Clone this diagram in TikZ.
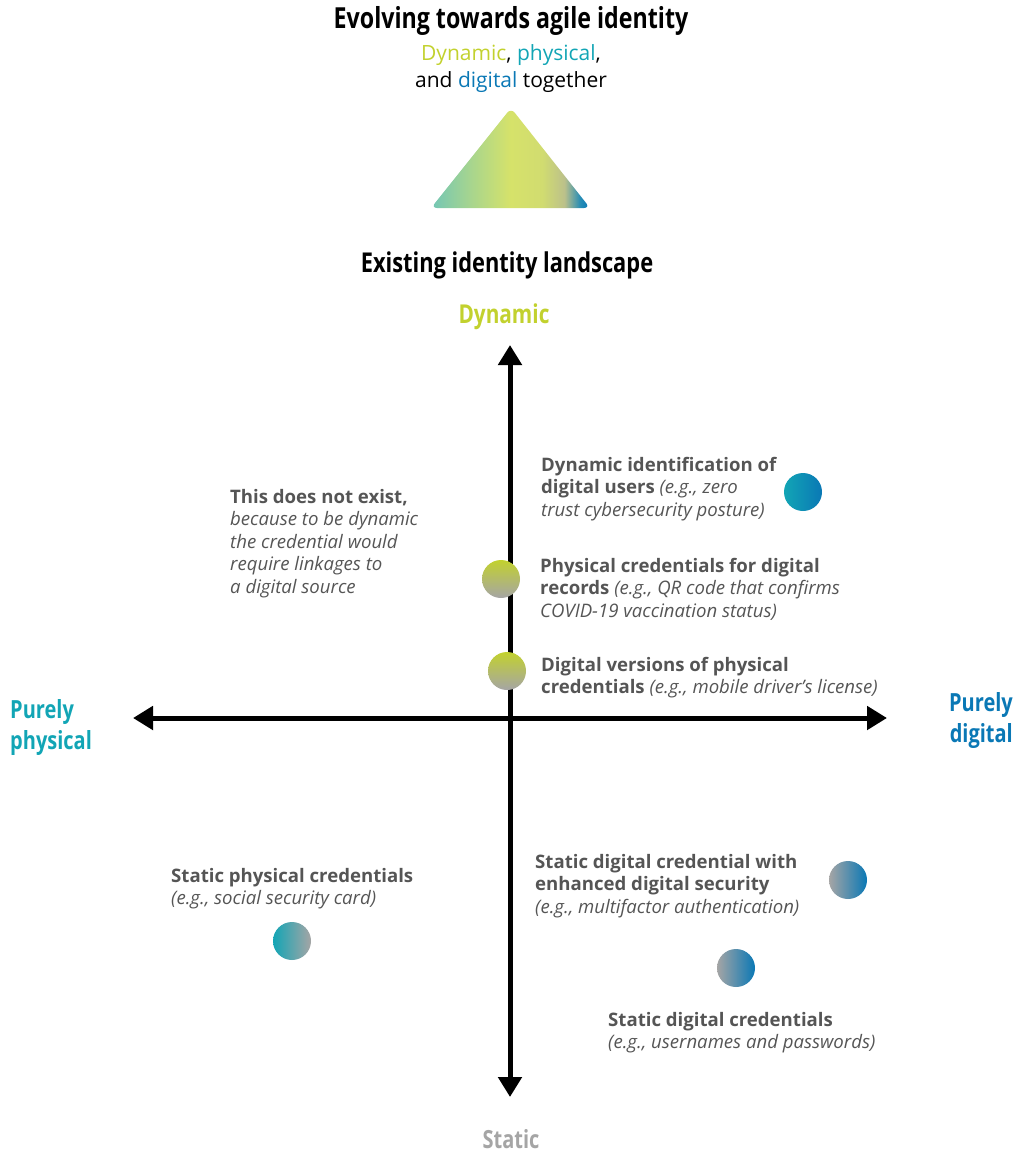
\documentclass[tikz,border=0pt]{standalone}
\usepackage{fontspec}
\setmainfont{Open Sans}
\newfontfamily\condfont{Open Sans}[FakeStretch=0.8]
\usetikzlibrary{arrows.meta,positioning}
\definecolor{Lime}{HTML}{C2D12E}
\definecolor{Teal}{HTML}{12A5B5}
\definecolor{Blue}{HTML}{0A78B5}
\definecolor{Stone}{HTML}{A5A5A5}
\definecolor{Ink}{HTML}{555555}
\definecolor{Mint}{HTML}{72C6B6}
\definecolor{Pale}{HTML}{D6E26A}
\pgfdeclarehorizontalshading{agile}{100bp}{color(0bp)=(Mint); color(25bp)=(Mint); color(38bp)=(Mint!45!Pale); color(50bp)=(Pale); color(60bp)=(Pale!90!Stone); color(67bp)=(Pale!45!Stone); color(72bp)=(Blue!75!Mint); color(75bp)=(Blue); color(100bp)=(Blue)}
\tikzset{
  head/.style={font=\condfont\bfseries\fontsize{25}{31}\selectfont,inner sep=0pt},
  note/.style={font=\fontsize{18.6}{22.5}\selectfont,text=Ink,align=left,anchor=north west,inner sep=0pt},
  dot/.style={circle,minimum size=38pt,inner sep=0pt}
}

\begin{document}
\begin{tikzpicture}[x=1pt,y=-1pt,>={Triangle[length=20pt,width=23pt]}]
  \useasboundingbox (0,0) rectangle (1019,1154);
  % top block
  \node[head,font=\condfont\bfseries\fontsize{29}{34}\selectfont,anchor=base] (title) at (511,28) {Evolving towards agile identity};
  \node[font=\fontsize{21}{27}\selectfont,align=center,inner sep=0pt] (mix) at (511,69)
    {{\color{Lime}Dynamic}, {\color{Teal}physical},\\and {\color{Blue}digital} together};
  \shade[shading=agile,rounded corners=6pt] (511,108) -- (590,208) -- (431,208) -- cycle;
  \node[head,font=\condfont\bfseries\fontsize{27.3}{32}\selectfont,anchor=base] (land) at (507,272) {Existing identity landscape};

  % axes
  \coordinate (top) at (510,345);
  \coordinate (bot) at (510,1097);
  \coordinate (lft) at (133,718);
  \coordinate (rgt) at (887,718);
  \draw[line width=5pt,<->] (bot) -- (top);
  \draw[line width=5pt,<->] (lft) -- (rgt);
  \node[head,font=\condfont\bfseries\fontsize{26}{31}\selectfont,text=Lime,anchor=base] (dyn) at (504,323) {Dynamic};
  \node[head,text=Stone,anchor=base] (stat) at (511,1148) {Static};
  \node[head,text=Teal,align=left,anchor=north west] (phys) at (10,699) {Purely\\physical};
  \node[head,text=Blue,align=right,anchor=north east] (digi) at (1013,692) {Purely\\digital};

  % quadrant notes
  \node[note] (none) at (230,489) {\textbf{This does not exist,}\\\textit{because to be dynamic}\\\textit{the credential would}\\\textit{require linkages to}\\\textit{a digital source}};
  \node[note] (zt) at (541,457) {\textbf{Dynamic identification of}\\\textbf{digital users} \textit{(e.g., zero}\\\textit{trust cybersecurity posture)}};
  \node[note] (qr) at (540,558) {\textbf{Physical credentials for digital}\\\textbf{records} \textit{(e.g., QR code that confirms}\\\textit{COVID-19 vaccination status)}};
  \node[note] (mdl) at (541,657) {\textbf{Digital versions of physical}\\\textbf{credentials} \textit{(e.g., mobile driver’s license)}};
  \node[note] (ssc) at (171,868) {\textbf{Static physical credentials}\\\textit{(e.g., social security card)}};
  \node[note] (mfa) at (535,854) {\textbf{Static digital credential with}\\\textbf{enhanced digital security}\\\textit{(e.g., multifactor authentication)}};
  \node[note] (pwd) at (608,1012) {\textbf{Static digital credentials}\\\textit{(e.g., usernames and passwords)}};

  % markers
  \node[dot,left color=Teal,middle color=Teal!40!Blue,right color=Blue] (d1) at (803,492) {};
  \node[dot,top color=Lime,middle color=Lime!70!Stone,bottom color=Stone] (d2) at (501,579) {};
  \node[dot,top color=Lime,middle color=Lime!55!Stone,bottom color=Stone] (d3) at (507,671) {};
  \node[dot,left color=Stone,middle color=Blue!80!Stone,right color=Blue] (d4) at (848,880) {};
  \node[dot,left color=Stone,middle color=Stone!85!Blue,right color=Blue] (d5) at (736,968) {};
  \node[dot,left color=Teal,middle color=Teal,right color=Stone] (d6) at (292,941) {};
\end{tikzpicture}
\end{document}
